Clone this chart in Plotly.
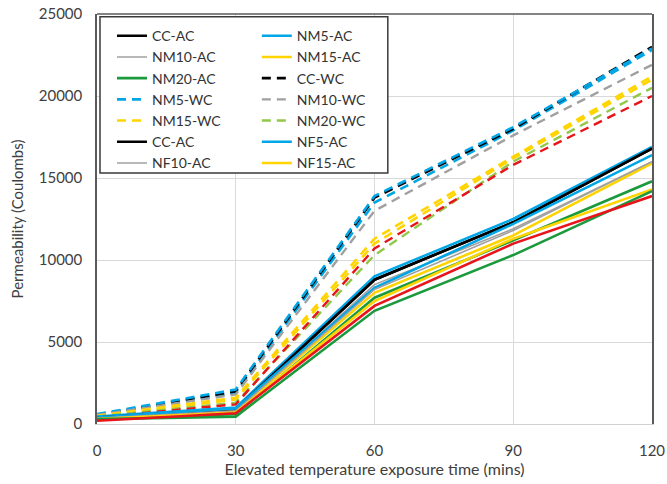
import plotly.graph_objects as go

# ---- data ----
time_mins = [0, 30, 60, 90, 120]
x_ticks = [0, 30, 60, 90, 120]
y_ticks = [0, 5000, 10000, 15000, 20000, 25000]

cc_ac = [400, 900, 8800, 12300, 16800]
nm5_ac = [450, 1000, 9000, 12500, 16900]
nm10_ac = [400, 850, 8500, 11900, 16000]
nm15_ac = [400, 800, 8000, 11500, 15900]
nm20_ac = [350, 600, 7700, 11200, 14800]
cc_wc = [550, 2000, 13800, 18000, 23000]
nm5_wc = [600, 2100, 13900, 18100, 22900]
nm10_wc = [550, 1800, 13000, 17600, 21900]
nm15_wc = [500, 1600, 11300, 16300, 21200]
nm20_wc = [450, 1300, 10300, 16000, 20500]
cc_ac2 = [400, 900, 8800, 12300, 16800]
nf5_ac = [400, 950, 8300, 12200, 16400]
nf10_ac = [350, 800, 8200, 11800, 16000]
nf15_ac = [300, 700, 7500, 11300, 14300]
# series drawn but not listed in the visible legend
nf20_ac = [300, 450, 6900, 10300, 14200]
red_ac = [200, 650, 7200, 11000, 13900]
red_wc = [400, 1200, 10700, 15800, 20000]
yellow_wc2 = [450, 1500, 11000, 16200, 21000]
blue_wc2 = [550, 1900, 13500, 17900, 22800]

BLACK = "#000000"
BLUE = "#00A6E6"
GRAY = "#A0A0A0"
YELLOW = "#FFD400"
GREEN = "#1A9A3C"
LGREEN = "#92C84A"
RED = "#E8141B"
DASH = "9px,6px"

series = [
    # name, values, color, width, dash, legend
    ("NM5-WC", blue_wc2, BLUE, 2.6, DASH, None),
    ("CC-WC", cc_wc, BLACK, 2.6, DASH, "legend2"),
    ("NM5-WC", nm5_wc, BLUE, 2.6, DASH, "legend"),
    ("NM10-WC", nm10_wc, GRAY, 2.4, DASH, "legend2"),
    ("NM15-WC", nm15_wc, YELLOW, 2.6, DASH, "legend"),
    ("NM15-WC", yellow_wc2, YELLOW, 2.6, DASH, None),
    ("NM20-WC", nm20_wc, LGREEN, 2.4, DASH, "legend2"),
    ("WC", red_wc, RED, 2.4, DASH, None),
    ("CC-AC", cc_ac, BLACK, 2.6, "solid", "legend"),
    ("NM5-AC", nm5_ac, BLUE, 2.6, "solid", "legend2"),
    ("NM10-AC", nm10_ac, GRAY, 1.6, "solid", "legend"),
    ("NM15-AC", nm15_ac, YELLOW, 2.6, "solid", "legend2"),
    ("NM20-AC", nm20_ac, GREEN, 2.6, "solid", "legend"),
    ("CC-AC", cc_ac2, BLACK, 2.6, "solid", "legend"),
    ("NF5-AC", nf5_ac, BLUE, 2.6, "solid", "legend2"),
    ("NF10-AC", nf10_ac, GRAY, 1.6, "solid", "legend"),
    ("NF15-AC", nf15_ac, YELLOW, 2.6, "solid", "legend2"),
    ("NF20-AC", nf20_ac, GREEN, 2.6, "solid", None),
    ("AC", red_ac, RED, 2.6, "solid", None),
]

legend_order = {
    "legend": ["CC-AC", "NM10-AC", "NM20-AC", "NM5-WC", "NM15-WC", "CC-AC#2", "NF10-AC"],
    "legend2": ["NM5-AC", "NM15-AC", "CC-WC", "NM10-WC", "NM20-WC", "NF5-AC", "NF15-AC"],
}

fig = go.Figure()
seen = {}
for name, vals, color, width, dash, leg in series:
    key = name
    if leg is not None:
        cnt = seen.get(name, 0)
        seen[name] = cnt + 1
        key = name if cnt == 0 else name + "#2"
        rank = legend_order[leg].index(key)
    else:
        rank = 999
    fig.add_trace(go.Scatter(
        x=time_mins, y=vals, mode="lines", name=name,
        line=dict(color=color, width=width, dash=dash),
        showlegend=leg is not None,
        legend=leg if leg is not None else "legend",
        legendrank=rank if leg is not None else 1000,
    ))

FONT = "Lato, 'Open Sans', sans-serif"
TEXT = "#404040"

leg_font = dict(family=FONT, size=14, color="#333333")
fig.update_layout(
    width=667, height=484,
    margin=dict(l=97, r=15, t=14, b=60),
    paper_bgcolor="white", plot_bgcolor="white",
    font=dict(family=FONT, color=TEXT, size=15),
    legend=dict(x=0.027, y=0.985, xanchor="left", yanchor="top",
                bgcolor="rgba(0,0,0,0)", borderwidth=0, font=leg_font,
                tracegroupgap=0, itemwidth=30),
    legend2=dict(x=0.288, y=0.985, xanchor="left", yanchor="top",
                 bgcolor="rgba(0,0,0,0)", borderwidth=0, font=leg_font,
                 tracegroupgap=0, itemwidth=30),
    shapes=[
        dict(type="rect", xref="paper", yref="paper",
             x0=0.0054, x1=0.524, y0=0.612, y1=0.993,
             line=dict(color="#3A3A3A", width=1.5), fillcolor="white",
             layer="above"),
        dict(type="line", xref="paper", yref="paper",
             x0=0, x1=1, y0=1, y1=1,
             line=dict(color="#5A5A5A", width=1.5), layer="above"),
    ],
)

fig.update_xaxes(
    range=[0, 120], tickvals=x_ticks, ticktext=[str(v) for v in x_ticks],
    showgrid=True, gridcolor="#D9D9D9", gridwidth=1, automargin=False,
    zeroline=False, showline=True, linecolor="#D0D0D0", linewidth=1,
    ticks="", ticklabelstandoff=13,
    tickfont=dict(family=FONT, size=15, color=TEXT),
    title=dict(text="Elevated temperature exposure time (mins)",
               font=dict(family=FONT, size=16, color=TEXT), standoff=4),
)
fig.update_yaxes(
    range=[0, 25000], tickvals=y_ticks, ticktext=[str(v) for v in y_ticks],
    showgrid=True, gridcolor="#D9D9D9", gridwidth=1, automargin=False,
    zeroline=False, showline=True, mirror=True, linecolor="#5A5A5A", linewidth=1.5,
    ticks="", ticklabelstandoff=10,
    tickfont=dict(family=FONT, size=15, color=TEXT),
    title=dict(text="Permeability (Coulombs)",
               font=dict(family=FONT, size=15, color=TEXT), standoff=12),
)

fig.write_html("out.html",
               config={"displayModeBar": False},
               post_script="document.body.style.margin='0px';document.body.style.overflow='hidden';")
